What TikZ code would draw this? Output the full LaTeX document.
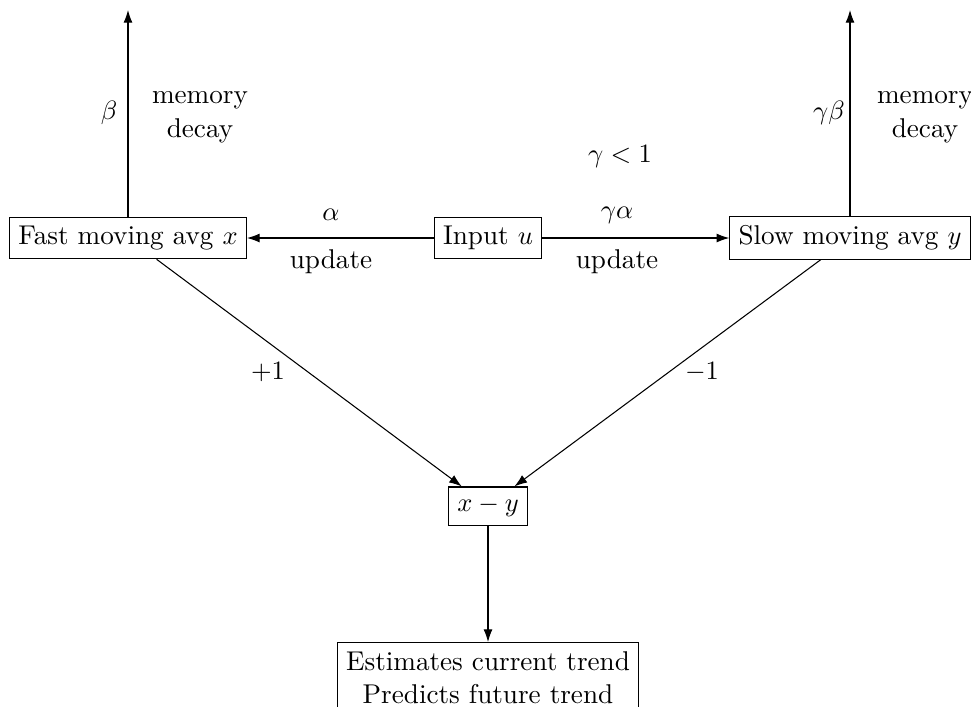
\documentclass[tikz,border=0pt]{standalone}
\usetikzlibrary{arrows.meta}
\begin{document}
\begin{tikzpicture}[x=0.3774pt,y=-0.3774pt,
  every node/.style={font=\fontsize{10.25}{12.6}\selectfont},
  box/.style={draw,rectangle,inner sep=3.3pt},
  arr/.style={-{Latex[length=4.8pt,width=3.4pt]}},
  lbl/.style={inner sep=0pt}]
\useasboundingbox (0,0) rectangle (971,706);
\node[box] (fast) at (128,238) {Fast moving avg $x$};
\node[box] (input) at (488,238) {Input $u$};
\node[box] (slow) at (850,238) {Slow moving avg $y$};
\node[box] (diff) at (488,506) {$x-y$};
\node[box,anchor=north,align=center] (out) at (488,642) {Estimates current trend\\Predicts future trend};
\coordinate (ftop) at (128,10);
\coordinate (stop) at (850,10);
\draw[arr] (fast.north) -- (fast.north |- ftop);
\draw[arr] (slow.north) -- (slow.north |- stop);
\draw[arr] (input.west) -- (fast.east);
\draw[arr] (input.east) -- (slow.west);
\draw[arr] (fast) -- (diff);
\draw[arr] (slow) -- (diff);
\draw[arr] (diff) -- (out);
\node[lbl] (beta) at (109,113) {$\beta$};
\node[lbl,align=center] (md1) at (200,117) {memory\\decay};
\node[lbl] (gbeta) at (829,113) {$\gamma\beta$};
\node[lbl,align=center] (md2) at (925,117) {memory\\decay};
\node[lbl] (glt) at (620,157) {$\gamma<1$};
\node[lbl] (alpha) at (331,215) {$\alpha$};
\node[lbl] (upd1) at (331,262) {update};
\node[lbl] (galpha) at (617,215) {$\gamma\alpha$};
\node[lbl] (upd2) at (617,262) {update};
\node[lbl] (plus) at (268,372) {$+1$};
\node[lbl] (minus) at (702,372) {$-1$};
\end{tikzpicture}
\end{document}
